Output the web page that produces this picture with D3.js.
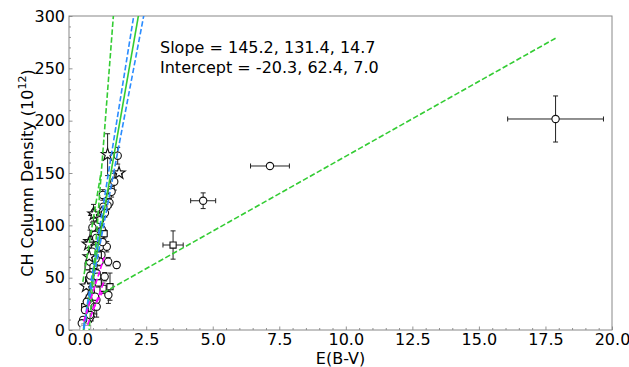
<!DOCTYPE html>
<html>
<head>
<meta charset="utf-8">
<script src="https://cdn.jsdelivr.net/npm/d3@7"></script>
<style>
  body { margin: 0; background: #fff; }
  svg { display: block; font-family: "DejaVu Sans", sans-serif; }
</style>
</head>
<body>
<svg id="chart" width="629" height="367"></svg>
<script>
// Colour excess E(B-V) and CH column density (units of 1e12 cm^-2) per sightline
const ebv = [17.88, 7.15, 4.64, 3.51, 1.39, 1.48, 1.43, 1.05, 1.30, 0.87,
             1.12, 1.05, 0.89, 0.84, 0.52, 0.54, 0.95, 0.74, 0.83, 0.66,
             0.77, 0.39, 0.33, 0.75, 0.57, 0.47, 0.77, 1.02, 0.82, 0.70,
             0.75, 1.07, 0.32, 0.39, 0.52, 0.50, 0.64, 0.66, 0.34, 0.94,
             0.88, 1.14, 1.08, 0.44, 0.32, 0.63, 0.58, 0.19, 0.57, 0.64,
             0.13, 0.44, 0.27, 0.20, 0.39, 0.08, 0.20, 0.14, 0.30, 0.57,
             0.62, 0.25, 0.40, 1.20, 0.92, 0.60, 0.70, 0.48, 0.86, 0.36];
const ebvErr = [1.80, 0.73, 0.47, 0.38, 0.08, 0.12, 0.03, 0.03, 0.03, 0.03,
                0.03, 0.03, 0.03, 0.03, 0.03, 0.03, 0.03, 0.03, 0.03, 0.03,
                0.03, 0.03, 0.03, 0.03, 0.03, 0.03, 0.03, 0.03, 0.03, 0.03,
                0.03, 0.03, 0.03, 0.03, 0.03, 0.03, 0.03, 0.03, 0.03, 0.03,
                0.03, 0.05, 0.03, 0.03, 0.03, 0.03, 0.03, 0.03, 0.03, 0.03,
                0.03, 0.03, 0.03, 0.03, 0.03, 0.03, 0.02, 0.02, 0.02, 0.03,
                0.03, 0.03, 0.03, 0.03, 0.03, 0.03, 0.03, 0.03, 0.03, 0.03];
const nCH = [201.6, 156.7, 123.5, 81.2, 62.1, 150.0, 166.5, 167.5, 141.7, 129.0,
             121.6, 119.0, 117.8, 113.0, 112.0, 110.8, 111.8, 99.4, 96.2, 100.3,
             105.0, 84.4, 82.0, 87.6, 78.0, 74.8, 79.6, 79.6, 71.7, 71.7,
             65.3, 65.3, 60.5, 65.3, 60.5, 55.7, 54.2, 50.9, 47.8, 50.9,
             39.8, 41.4, 33.4, 38.2, 30.3, 28.7, 31.8, 22.3, 22.3, 22.3,
             9.6, 12.7, 27.0, 19.1, 14.3, 6.4, 3.2, 1.0, 1.5, 91.0,
             88.0, 42.0, 52.0, 132.0, 92.0, 68.0, 45.0, 98.0, 84.0, 70.0];
const nCHErr = [22.0, 2.0, 7.5, 13.5, 3.0, 2.0, 8.0, 20.0, 8.0, 5.0,
                4.0, 4.0, 3.0, 3.0, 8.0, 4.0, 4.0, 3.0, 3.0, 4.0,
                4.0, 11.0, 3.0, 4.0, 4.0, 3.0, 4.0, 5.0, 3.0, 3.0,
                4.0, 4.0, 3.0, 4.0, 3.0, 3.0, 4.0, 3.0, 3.0, 4.0,
                5.0, 13.0, 8.0, 3.0, 3.0, 4.0, 3.0, 3.0, 7.0, 10.0,
                3.0, 4.0, 3.0, 3.0, 3.0, 2.0, 2.0, 1.0, 1.0, 4.0,
                3.0, 3.0, 3.0, 5.0, 4.0, 3.0, 4.0, 5.0, 4.0, 6.0];
const markerShape = ["circle", "circle", "circle", "square", "circle", "star", "circle", "star", "circle", "circle",
                     "circle", "circle", "circle", "diamond", "triangle", "star", "circle", "circle", "circle", "square",
                     "circle", "star", "star", "circle", "circle", "circle", "circle", "circle", "circle", "square",
                     "circle", "circle", "square", "circle", "circle", "square", "circle", "circle", "square", "circle",
                     "square", "square", "circle", "square", "triangle", "circle", "circle", "square", "circle", "circle",
                     "circle", "diamond", "circle", "circle", "circle", "circle", "square", "circle", "square", "circle",
                     "circle", "star", "circle", "circle", "square", "circle", "square", "circle", "circle", "star"];
const markerTone = ["dark", "dark", "dark", "dark", "dark", "dark", "dark", "dark", "dark", "dark",
                    "dark", "dark", "dark", "dark", "dark", "dark", "dark", "dark", "dark", "dark",
                    "dark", "dark", "dark", "dark", "dark", "dark", "dark", "dark", "dark", "dark",
                    "dark", "dark", "dark", "dark", "dark", "dark", "dark", "dark", "dark", "dark",
                    "dark", "dark", "dark", "dark", "dark", "dark", "dark", "dark", "dark", "dark",
                    "dark", "dark", "dark", "dark", "dark", "dark", "light", "light", "light", "dark",
                    "dark", "dark", "dark", "dark", "dark", "dark", "dark", "dark", "dark", "dark"];

// Straight-line relations N(CH) = slope * E(B-V) + intercept
const fitSlope     = [145.2, 158.0, 133.0, 330.0, 153.0, 14.31, 80.0, 67.0, 46.0];
const fitIntercept = [-20.3, -21.0, -20.0, -118.0, 27.6, 22.9, -4.0, -15.0, -3.0];
const fitFrom      = [0.0, 0.10, 0.10, 0.30, 0.12, 0.89, 0.15, 0.30, 0.50];
const fitTo        = [2.6, 2.6, 2.6, 1.40, 0.80, 17.88, 0.92, 0.90, 0.85];
const fitColour    = ["#33cc33", "#2a8cff", "#2a8cff", "#33cc33", "#33cc33", "#33cc33", "#ff00ff", "#ff00ff", "#ff00ff"];
const fitDashed    = [false, true, true, true, true, true, true, true, true];

const xTicks = [0, 2.5, 5, 7.5, 10, 12.5, 15, 17.5, 20];
const yTicks = [0, 50, 100, 150, 200, 250, 300];
const xMinorStep = 0.5;
const yMinorStep = 10;

const annotation = ["Slope = 145.2, 131.4, 14.7", "Intercept = -20.3, 62.4, 7.0"];

const svg = d3.select("#chart");
const padL = 69, padR = 612, padT = 16, padB = 330;

const x = d3.scaleLinear().domain([-0.4, 20]).range([padL, padR]);
const y = d3.scaleLinear().domain([0, 300]).range([padB, padT]);

svg.append("defs").append("clipPath").attr("id", "plotArea")
  .append("rect").attr("x", padL).attr("y", padT)
  .attr("width", padR - padL).attr("height", padB - padT);

// minor ticks (inward)
const xMinor = d3.range(0, 20 + 1e-9, xMinorStep).filter(v => !xTicks.some(t => Math.abs(t - v) < 1e-9));
const yMinor = d3.range(0, 300 + 1e-9, yMinorStep).filter(v => !yTicks.some(t => Math.abs(t - v) < 1e-9));

const gxMinor = svg.append("g").attr("transform", `translate(0,${padB})`)
  .call(d3.axisBottom(x).tickValues(xMinor).tickSize(-2).tickSizeOuter(0).tickFormat(""));
const gyMinor = svg.append("g").attr("transform", `translate(${padL},0)`)
  .call(d3.axisLeft(y).tickValues(yMinor).tickSize(-2).tickSizeOuter(0).tickFormat(""));

const gx = svg.append("g").attr("transform", `translate(0,${padB})`)
  .call(d3.axisBottom(x).tickValues(xTicks).tickSize(-3.5).tickSizeOuter(0).tickPadding(4)
        .tickFormat(d3.format(".1f")));
const gy = svg.append("g").attr("transform", `translate(${padL},0)`)
  .call(d3.axisLeft(y).tickValues(yTicks).tickSize(-3.5).tickSizeOuter(0).tickPadding(4)
        .tickFormat(d3.format("d")));

[gxMinor, gyMinor, gx, gy].forEach(g => {
  g.select(".domain").remove();
  g.selectAll(".tick line").attr("stroke", "#777").attr("stroke-width", 0.8);
});
[gx, gy].forEach(g => {
  g.selectAll(".tick text").attr("font-size", 16).attr("fill", "#000")
    .attr("font-family", "DejaVu Sans, sans-serif");
});

// frame
svg.append("rect").attr("x", padL).attr("y", padT)
  .attr("width", padR - padL).attr("height", padB - padT)
  .attr("fill", "none").attr("stroke", "#888").attr("stroke-width", 1);

// axis titles
svg.append("text").attr("x", (padL + padR) / 2).attr("y", 364)
  .attr("text-anchor", "middle").attr("font-size", 16).text("E(B-V)");

const yTitle = svg.append("text")
  .attr("transform", `translate(33,${(padT + padB) / 2}) rotate(-90)`)
  .attr("text-anchor", "middle").attr("font-size", 16);
yTitle.append("tspan").text("CH Column Density (10");
yTitle.append("tspan").attr("font-size", 11).attr("dy", -7).text("12");
yTitle.append("tspan").attr("dy", 7).text(")");

// data points
const pts = ebv.map((e, i) => ({
  x: e, xe: ebvErr[i], y: nCH[i], ye: nCHErr[i], shape: markerShape[i], tone: markerTone[i]
}));

const plot = svg.append("g").attr("clip-path", "url(#plotArea)");
const cap = 2.5;
const bars = plot.append("g");
pts.forEach(p => {
  const col = p.tone === "dark" ? "#222" : "#aaa";
  const g = bars.append("g").attr("stroke", col).attr("stroke-width", 1).attr("fill", "none");
  const cx = x(p.x), cy = y(p.y);
  const x0 = x(p.x - p.xe), x1 = x(p.x + p.xe);
  const y0 = y(p.y - p.ye), y1 = y(p.y + p.ye);
  g.append("line").attr("x1", x0).attr("x2", x1).attr("y1", cy).attr("y2", cy);
  g.append("line").attr("x1", cx).attr("x2", cx).attr("y1", y0).attr("y2", y1);
  [x0, x1].forEach(v => g.append("line").attr("x1", v).attr("x2", v).attr("y1", cy - cap).attr("y2", cy + cap));
  [y0, y1].forEach(v => g.append("line").attr("x1", cx - cap).attr("x2", cx + cap).attr("y1", v).attr("y2", v));
});

const symbolType = {
  circle: d3.symbolCircle, square: d3.symbolSquare, star: d3.symbolStar,
  triangle: d3.symbolTriangle, diamond: d3.symbolDiamond
};
const symbolSize = { circle: 42, square: 38, star: 48, triangle: 38, diamond: 34 };

plot.append("g").selectAll("path").data(pts).join("path")
  .attr("transform", d => `translate(${x(d.x)},${y(d.y)})`)
  .attr("d", d => d3.symbol(symbolType[d.shape], symbolSize[d.shape])())
  .attr("fill", "#fff")
  .attr("stroke", d => d.tone === "dark" ? "#111" : "#aaa")
  .attr("stroke-width", 1.1);

// fitted lines, drawn over the points
const line = d3.line().x(d => x(d[0])).y(d => y(d[1]));
fitSlope.forEach((m, i) => {
  const seg = [fitFrom[i], fitTo[i]].map(v => [v, m * v + fitIntercept[i]]);
  plot.append("path").attr("d", line(seg))
    .attr("fill", "none").attr("stroke", fitColour[i]).attr("stroke-width", 1.6)
    .attr("stroke-dasharray", fitDashed[i] ? "5.5,2.4" : null);
});

// fit parameters
const note = svg.append("text").attr("x", 160).attr("y", 53).attr("font-size", 16);
annotation.forEach((t, i) => note.append("tspan").attr("x", 160).attr("dy", i === 0 ? 0 : 20).text(t));
</script>
</body>
</html>
